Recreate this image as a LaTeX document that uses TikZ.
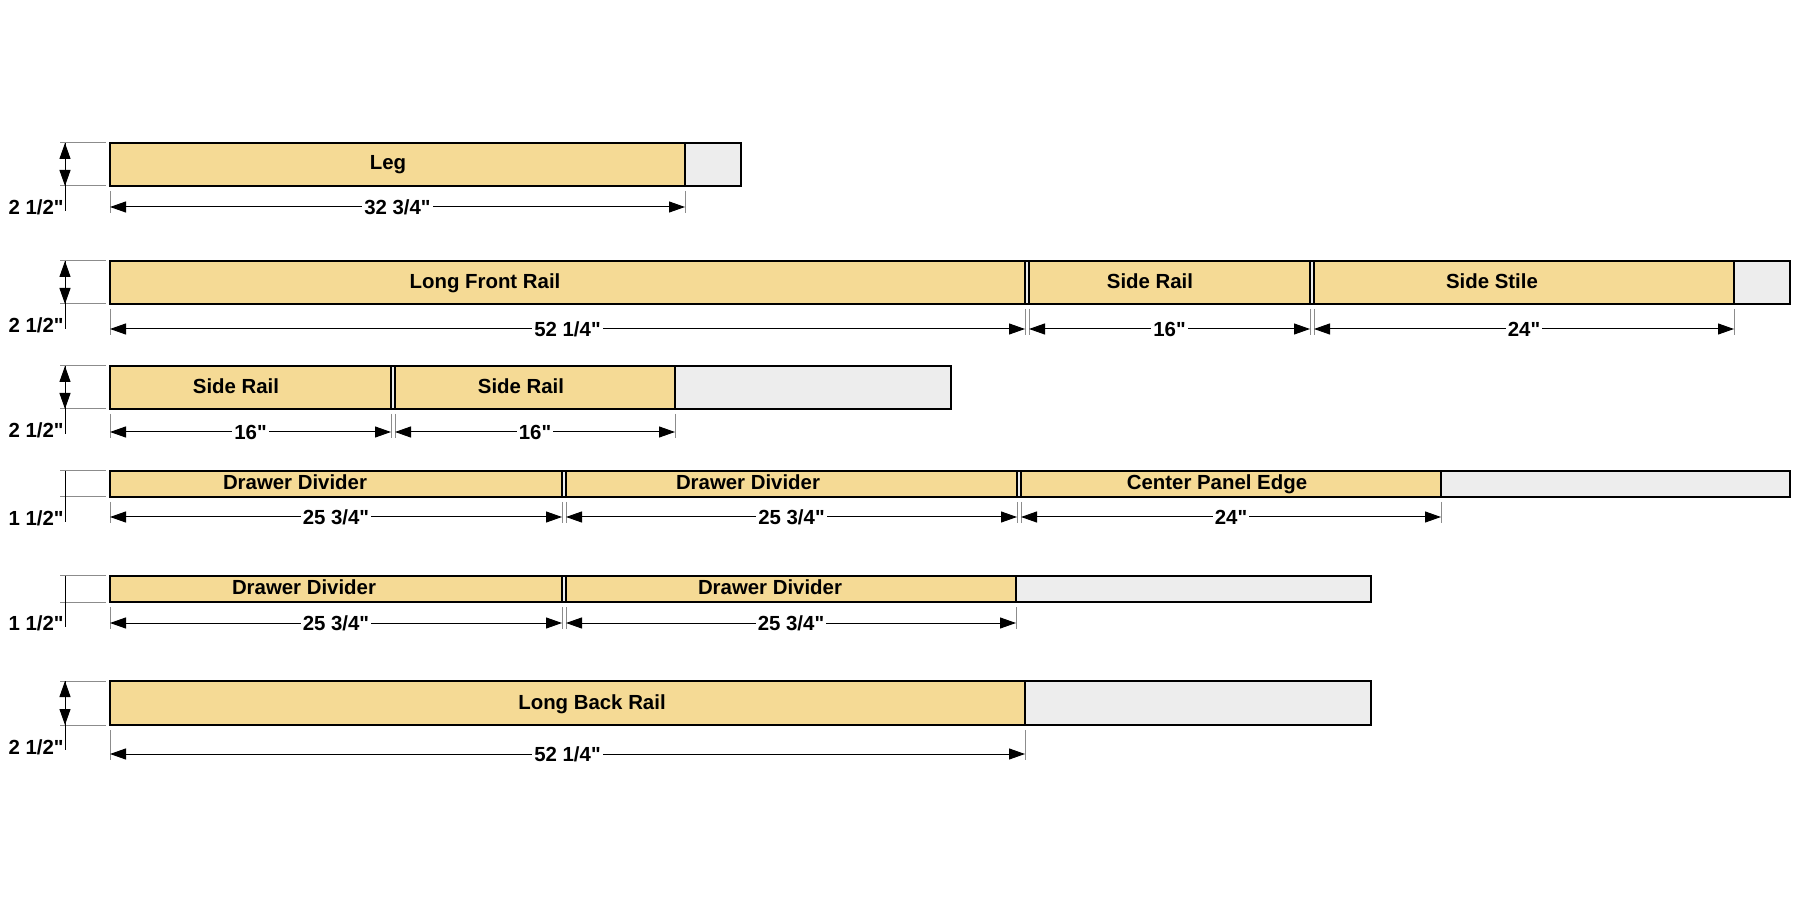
\documentclass[tikz,border=0pt]{standalone}
\usepackage{fontspec}
\setmainfont{Liberation Sans}[Ligatures=TeXOff]
\usetikzlibrary{arrows.meta}
\definecolor{pine}{HTML}{F5DA95}
\definecolor{offcut}{HTML}{EDEDED}
\definecolor{extgray}{HTML}{8C8C8C}
\tikzset{
	board/.style={draw=black,line width=1.1pt,fill=offcut},%
	piece/.style={draw=black,line width=0.9pt,fill=pine},%
	partname/.style={font=\bfseries\fontsize{10.2}{12}\selectfont,anchor=base,inner sep=0pt},%
	dimline/.style={{Triangle[length=8pt,width=5.5pt]}-{Triangle[length=8pt,width=5.5pt]},line width=0.5pt},%
	heightline/.style={line width=0.5pt},%
	extline/.style={extgray,line width=0.5pt},%
	dimtext/.style={font=\bfseries\fontsize{10.2}{12}\selectfont,fill=white,inner xsep=1pt,inner ysep=0pt},%
}
\def\extleft{60}
\def\extright{106}
\def\heightx{65}
% width dimension: name, left x, right x, board bottom, line y, text
\newcommand{\widthdim}[6]{%
	\coordinate (#1-l) at (#2,#5);
	\coordinate (#1-r) at (#3,#5);
	\draw[extline] (#2,#4+5) -- (#2,#5+6) (#3,#4+5) -- (#3,#5+6);
	\draw[dimline] (#1-l) -- (#1-r) node[dimtext,midway] (#1-txt) {#6};
}
% height dimension: name, board top, board bottom, text, line style
\newcommand{\heightdim}[5]{%
	\draw[extline] (\extleft,#2) -- (\extright,#2) (\extleft,#3) -- (\extright,#3);
	\coordinate (#1-t) at (\heightx,#2);
	\coordinate (#1-b) at (\heightx,#3);
	\node[partname,anchor=base east] (#1-txt) at (\heightx-1,#3+29) {#4};
	\draw[heightline] (#1-t) -- (\heightx,#3+25);
	\draw[#5] (#1-t) -- (#1-b);
}

\begin{document}
\begin{tikzpicture}[x=0.5pt,y=-0.5pt]
	\useasboundingbox (0,0) rectangle (1800,919);
	% Leg {{{
	\draw[board] (110,143) rectangle (741,186);
	\draw[piece] (110,143) rectangle (685,186);
	\node[partname] (leg) at (388,170) {Leg};
	\widthdim{legw}{110}{685}{186}{207}{32 3/4"}
	\heightdim{legh}{143}{186}{2 1/2"}{dimline}
	% }}}
	% Long front rail, side rail, side stile {{{
	\draw[board] (110,261) rectangle (1790,304);
	\draw[piece] (110,261) rectangle (1025,304);
	\draw[piece] (1029,261) rectangle (1310,304);
	\draw[piece] (1314,261) rectangle (1734,304);
	\node[partname] (frontrail) at (485,289) {Long Front Rail};
	\node[partname] (siderail) at (1150,289) {Side Rail};
	\node[partname] (sidestile) at (1492,289) {Side Stile};
	\widthdim{frontw}{110}{1025}{304}{329}{52 1/4"}
	\widthdim{sidew}{1029}{1310}{304}{329}{16"}
	\widthdim{stilew}{1314}{1734}{304}{329}{24"}
	\heightdim{fronth}{261}{304}{2 1/2"}{dimline}
	% }}}
	% Side rails {{{
	\draw[board] (110,366) rectangle (951,409);
	\draw[piece] (110,366) rectangle (391,409);
	\draw[piece] (395,366) rectangle (675,409);
	\node[partname] (sidea) at (236,394) {Side Rail};
	\node[partname] (sideb) at (521,394) {Side Rail};
	\widthdim{sideaw}{110}{391}{409}{432}{16"}
	\widthdim{sidebw}{395}{675}{409}{432}{16"}
	\heightdim{sideh}{366}{409}{2 1/2"}{dimline}
	% }}}
	% Drawer dividers, center panel edge {{{
	\draw[board] (110,471) rectangle (1790,497);
	\draw[piece] (110,471) rectangle (562,497);
	\draw[piece] (566,471) rectangle (1017,497);
	\draw[piece] (1021,471) rectangle (1441,497);
	\node[partname] (divia) at (295,490) {Drawer Divider};
	\node[partname] (divib) at (748,490) {Drawer Divider};
	\node[partname] (paneledge) at (1217,490) {Center Panel Edge};
	\widthdim{diviaw}{110}{562}{497}{517}{25 3/4"}
	\widthdim{divibw}{566}{1017}{497}{517}{25 3/4"}
	\widthdim{edgew}{1021}{1441}{497}{517}{24"}
	\heightdim{divih}{471}{497}{1 1/2"}{heightline}
	% }}}
	% Drawer dividers {{{
	\draw[board] (110,576) rectangle (1371,602);
	\draw[piece] (110,576) rectangle (562,602);
	\draw[piece] (566,576) rectangle (1016,602);
	\node[partname] (divic) at (304,595) {Drawer Divider};
	\node[partname] (divid) at (770,595) {Drawer Divider};
	\widthdim{divicw}{110}{562}{602}{623}{25 3/4"}
	\widthdim{dividw}{566}{1016}{602}{623}{25 3/4"}
	\heightdim{divjh}{576}{602}{1 1/2"}{heightline}
	% }}}
	% Long back rail {{{
	\draw[board] (110,681) rectangle (1371,725);
	\draw[piece] (110,681) rectangle (1025,725);
	\node[partname] (backrail) at (592,709) {Long Back Rail};
	\widthdim{backw}{110}{1025}{725}{754}{52 1/4"}
	\heightdim{backh}{681}{725}{2 1/2"}{dimline}
	% }}}
\end{tikzpicture}
\end{document}
